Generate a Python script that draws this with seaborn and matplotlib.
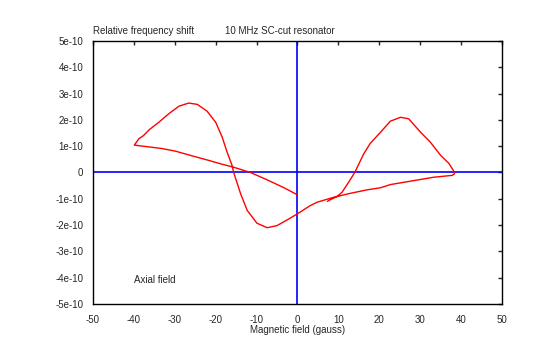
import numpy as np
import pandas as pd
import matplotlib
matplotlib.use("Agg")
import matplotlib.pyplot as plt
import seaborn as sns

# Field sweep of the resonator (gauss) and the relative frequency shift (units of 1e-10)
field = [0.0, -3.3, -7.4, -11.5, -15.6, -18.8, -21.7, -25.7, -29.8, -33.1, -37.2, -39.9,
         -38.8, -37.6, -36.3, -33.9, -31.5, -29.0, -26.6, -24.5, -22.1, -20.0, -18.4, -17.2,
         -16.0, -15.6, -13.9, -12.3, -9.9, -7.4, -5.0, -2.5, 0.0, 3.0, 4.8, 8.9, 13.0, 17.0,
         20.3, 22.7, 27.6, 33.3, 37.8, 38.4, 38.1, 37.0, 35.0, 32.5, 30.1, 27.2, 25.2, 22.7,
         20.3, 17.8, 16.2, 14.0, 12.5, 10.9, 9.7, 7.7, 7.3]
shift = [-0.85, -0.58, -0.28, 0.0, 0.2, 0.33, 0.46, 0.63, 0.81, 0.91, 0.99, 1.04,
         1.28, 1.41, 1.62, 1.91, 2.23, 2.52, 2.64, 2.59, 2.33, 1.91, 1.34, 0.77,
         0.27, 0.0, -0.81, -1.44, -1.93, -2.10, -2.02, -1.80, -1.57, -1.27, -1.13, -0.94, -0.79, -0.66,
         -0.58, -0.46, -0.33, -0.18, -0.11, -0.05, 0.08, 0.35, 0.65, 1.15, 1.53, 2.04, 2.10, 1.95,
         1.53, 1.11, 0.71, 0.0, -0.37, -0.75, -0.91, -1.06, -1.10]

x_ticks = [-50, -40, -30, -20, -10, 0, 10, 20, 30, 40, 50]
y_ticks = [5, 4, 3, 2, 1, 0, -1, -2, -3, -4, -5]
y_labels = ["5e-10", "4e-10", "3e-10", "2e-10", "1e-10", "0",
            "-1e-10", "-2e-10", "-3e-10", "-4e-10", "-5e-10"]

df = pd.DataFrame({"field": field, "shift": np.array(shift) * 1e-10})

sns.set_style("white")
plt.rcParams["font.family"] = ["Liberation Sans", "DejaVu Sans"]
fs = 7

fig = plt.figure(figsize=(5.4, 3.55), dpi=100)
ax = fig.add_axes([0.1722, 0.1437, 0.7574, 0.7408])

ax.axhline(0, color="#0000ff", lw=1.2, zorder=1)
ax.axvline(0, color="#0000ff", lw=1.2, zorder=1)
sns.lineplot(data=df, x="field", y="shift", sort=False, estimator=None,
             color="#ff0000", lw=1, ax=ax, zorder=2)

ax.set_xlim(-50, 50)
ax.set_ylim(-5e-10, 5e-10)
ax.set_xticks(x_ticks)
ax.set_xticklabels([str(t) for t in x_ticks])
ax.set_yticks([v * 1e-10 for v in y_ticks])
ax.set_yticklabels(y_labels)

for s in ax.spines.values():
    s.set_color("black")
    s.set_linewidth(1)

ax.tick_params(axis="x", which="both", direction="out", length=3, width=1,
               labelsize=fs, pad=5, top=True)
ax.tick_params(axis="y", which="both", direction="in", length=3, width=1,
               labelsize=fs, pad=7, right=True)
# top ticks point inwards like the right ones
for t in ax.xaxis.get_major_ticks():
    t.tick2line.set_marker(matplotlib.lines.TICKDOWN)

ax.set_xlabel("Magnetic field (gauss)", fontsize=fs, labelpad=0)
ax.set_ylabel("")
ax.grid(False)

fig.text(0.1722, 0.898, "Relative frequency shift", fontsize=fs, ha="left", va="bottom")
fig.text(0.519, 0.898, "10 MHz SC-cut resonator", fontsize=fs, ha="center", va="bottom")
ax.text(-40, -4.1e-10, "Axial field", fontsize=fs, ha="left", va="center")

fig.savefig("out.png", dpi=100, facecolor="white")
